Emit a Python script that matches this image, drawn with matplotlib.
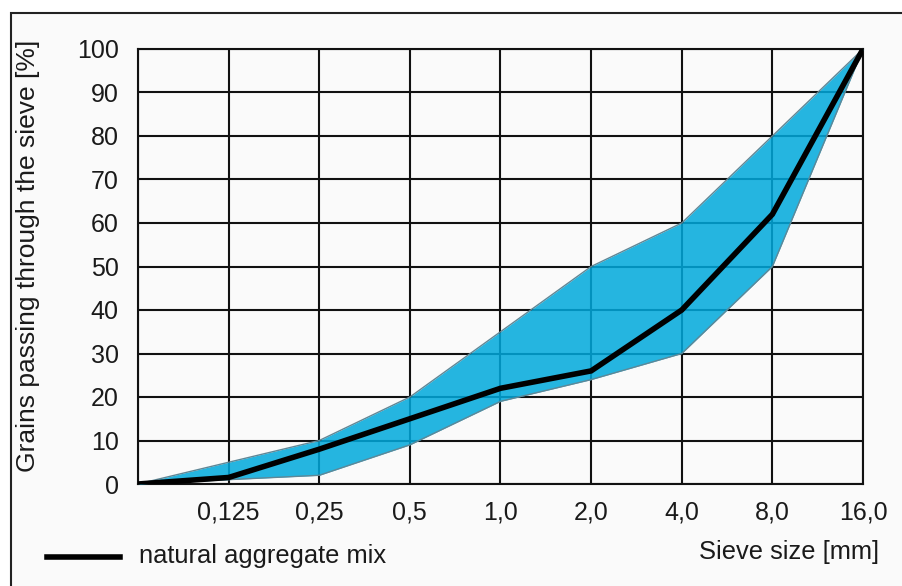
import matplotlib.pyplot as plt
from matplotlib.patches import Rectangle
from matplotlib.lines import Line2D

plt.rcParams['font.family'] = ['Liberation Sans', 'DejaVu Sans']

sieve_labels = ["", "0,125", "0,25", "0,5", "1,0", "2,0", "4,0", "8,0", "16,0"]
upper_limit = [0, 5, 10, 20, 35, 50, 60, 80, 100]
lower_limit = [0, 1, 2, 9, 19, 24, 30, 50, 100]
natural_mix = [0, 1.5, 8, 15, 22, 26, 40, 62, 100]
y_ticks = list(range(0, 101, 10))

pos = list(range(len(sieve_labels)))

fig = plt.figure(figsize=(9.03, 5.86), dpi=100)
fig.patch.set_facecolor("white")
# panel frame (cropped at the right and bottom in the original)
frame = Rectangle((11 / 903, -0.1), 1.1, 1 - 13 / 586 + 0.1,
                  transform=fig.transFigure, facecolor="#fafafa",
                  edgecolor="#222222", linewidth=1.5, zorder=-5)
fig.patches.append(frame)

ax = fig.add_axes([138 / 903, 1 - 484 / 586, (863 - 138) / 903, (484 - 49) / 586])
ax.set_zorder(2)
ax.set_facecolor("#fafafa")

ax.fill_between(pos, lower_limit, upper_limit, color="#00a9dc", alpha=0.85,
                linewidth=0, zorder=3)
ax.plot(pos, upper_limit, color="#5f8796", lw=1, zorder=4)
ax.plot(pos, lower_limit, color="#5f8796", lw=1, zorder=4)
ax.plot(pos, natural_mix, color="black", lw=4, solid_joinstyle="miter", zorder=5)

ax.set_xlim(0, len(pos) - 1)
ax.set_ylim(0, 100)
ax.set_xticks(pos)
ax.set_xticklabels(sieve_labels, fontsize=18, color="#1a1a1a")
ax.set_yticks(y_ticks)
ax.set_yticklabels([str(v) for v in y_ticks], fontsize=18, color="#1a1a1a")
ax.tick_params(length=0, pad=14)
ax.tick_params(axis="x", pad=12)
ax.grid(True, color="#111111", lw=1.5, zorder=1)
ax.set_axisbelow(True)
for s in ax.spines.values():
    s.set_color("#111111")
    s.set_linewidth(1.5)
    s.set_zorder(2)

fig.text(28 / 903, 1 - 256 / 586, "Grains passing through the sieve [%]", rotation=90,
         ha="center", va="center", fontsize=19, color="#1a1a1a")
fig.text(879 / 903, 1 - 552 / 586, "Sieve size [mm]", ha="right", va="center",
         fontsize=18.4, color="#1a1a1a")
fig.lines.append(Line2D([47 / 903, 120 / 903], [1 - 557 / 586, 1 - 557 / 586],
                        transform=fig.transFigure, color="black", lw=4))
fig.text(139 / 903, 1 - 556 / 586, "natural aggregate mix", ha="left", va="center",
         fontsize=18.4, color="#1a1a1a")

fig.savefig("out.png", dpi=100)
